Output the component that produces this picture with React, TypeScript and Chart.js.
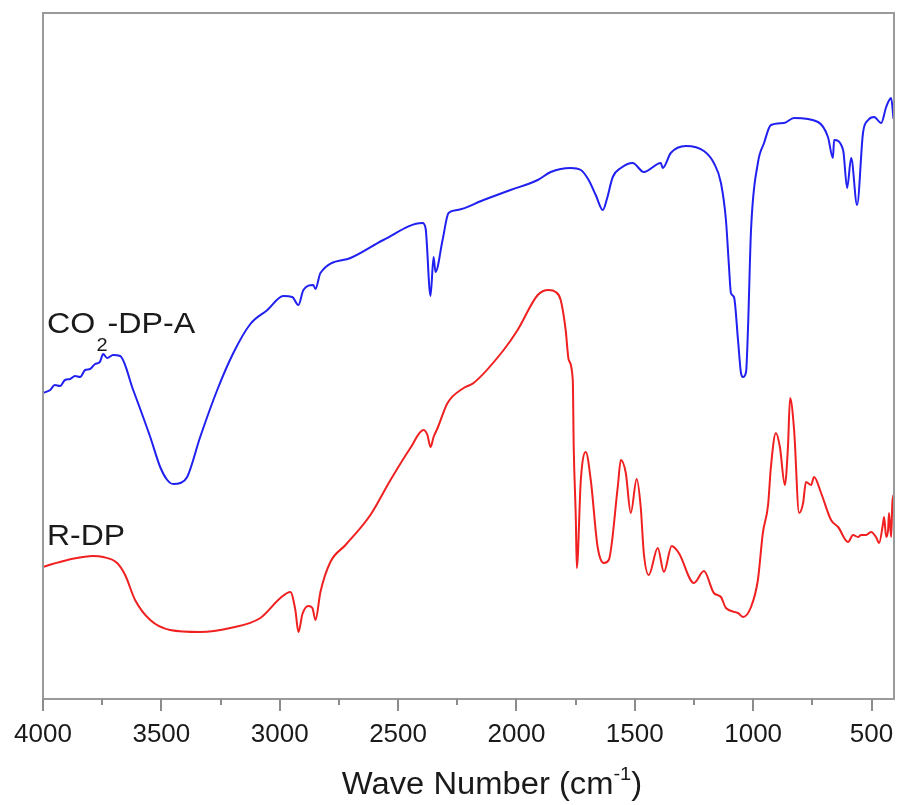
import React, { useEffect, useRef } from "react";
import { Chart, registerables } from "chart.js";

Chart.register(...registerables);

// CO2-DP-A spectrum (blue)
const blueWn = [
  4000, 3970, 3950, 3928, 3907, 3885, 3865, 3843, 3822, 3801,
  3780, 3760, 3746, 3729, 3704, 3674, 3619, 3547, 3505, 3475,
  3450, 3420, 3391, 3336, 3264, 3196, 3124, 3052, 2985, 2947,
  2921, 2900, 2858, 2849, 2828, 2701, 2562, 2397, 2384, 2363,
  2350, 2342, 2312, 2287, 2249, 2139, 2025, 1910, 1855, 1771,
  1728, 1695, 1665, 1635, 1619, 1593, 1559, 1509, 1462, 1390,
  1382, 1348, 1284, 1208, 1166, 1136, 1115, 1102, 1094, 1081,
  1064, 1052, 1043, 1030, 1022, 1009, 980, 954, 925, 870,
  827, 726, 684, 663, 658, 620, 603, 586, 561, 536,
  514, 489, 459, 438, 417, 407,
];
const blueT = [
  30.6, 30.9, 31.4, 31.3, 31.9, 32.0, 32.3, 32.2, 32.9, 33.0,
  33.5, 33.7, 34.5, 34.1, 34.4, 34.3, 30.9, 26.2, 23.2, 21.9,
  21.5, 21.6, 22.2, 26.2, 30.9, 34.6, 37.5, 38.9, 40.3, 40.2,
  39.4, 40.9, 41.4, 41.0, 42.6, 44.1, 45.9, 47.6, 47.1, 40.3,
  44.2, 42.7, 45.9, 48.6, 48.9, 49.9, 50.9, 51.9, 52.7, 53.1,
  52.9, 51.9, 50.4, 48.9, 49.9, 52.2, 53.1, 53.6, 52.7, 53.6,
  53.1, 54.6, 55.3, 54.8, 53.6, 51.6, 47.9, 43.2, 40.6, 40.2,
  35.9, 32.7, 32.2, 32.7, 36.9, 46.9, 53.6, 55.6, 57.4, 57.6,
  58.1, 57.7, 56.2, 54.1, 55.9, 54.9, 51.1, 54.1, 49.4, 56.6,
  57.9, 58.2, 57.6, 59.2, 60.1, 58.0,
];

// R-DP spectrum (red)
const redWn = [
  4000, 3960, 3928, 3880, 3831, 3790, 3746, 3687, 3653, 3611,
  3547, 3463, 3336, 3209, 3082, 2997, 2955, 2934, 2921, 2904,
  2879, 2862, 2849, 2828, 2786, 2722, 2617, 2532, 2448, 2393,
  2376, 2363, 2350, 2333, 2291, 2223, 2181, 2054, 1995, 1910,
  1864, 1834, 1813, 1792, 1779, 1762, 1758, 1749, 1745, 1728,
  1707, 1686, 1657, 1631, 1610, 1572, 1559, 1538, 1517, 1492,
  1475, 1462, 1441, 1403, 1377, 1344, 1314, 1250, 1208, 1166,
  1136, 1115, 1064, 1043, 1009, 980, 959, 937, 925, 904,
  887, 866, 853, 844, 827, 806, 789, 777, 755, 743,
  713, 671, 641, 599, 578, 557, 544, 523, 502, 481,
  468, 451, 447, 438, 430, 426, 417, 412, 407,
];
const redT = [
  13.2, 13.5, 13.7, 14.0, 14.2, 14.3, 14.2, 13.6, 12.4, 9.9,
  7.9, 6.9, 6.7, 7.1, 8.1, 10.1, 10.7, 8.9, 6.7, 8.5,
  9.3, 9.1, 7.9, 10.7, 13.7, 15.4, 18.4, 21.9, 25.1, 26.9,
  26.4, 25.2, 26.2, 27.1, 29.6, 31.1, 31.6, 34.9, 36.9, 40.4,
  40.9, 40.7, 39.9, 36.9, 33.9, 31.9, 25.2, 17.9, 13.1, 21.9,
  24.7, 21.9, 15.2, 13.6, 13.9, 21.2, 23.9, 22.6, 18.6, 22.0,
  19.2, 14.6, 12.4, 15.1, 12.7, 15.3, 14.6, 11.6, 12.8, 10.6,
  10.2, 9.1, 8.6, 8.2, 9.2, 11.9, 16.6, 19.4, 23.2, 26.6,
  25.2, 21.4, 25.2, 30.1, 26.9, 18.6, 19.6, 21.7, 21.4, 22.2,
  20.6, 17.9, 17.2, 15.7, 16.4, 16.2, 16.4, 16.4, 16.7, 16.2,
  15.6, 17.6, 18.2, 16.2, 16.9, 18.6, 16.2, 19.6, 20.4,
];

const majorTicks = [4000, 3500, 3000, 2500, 2000, 1500, 1000, 500];
const minorTicks = [3750, 3250, 2750, 2250, 1750, 1250, 750];
const xMin = 405;
const xMax = 4000;

const FONT = '"Liberation Sans", Arial, Helvetica, sans-serif';

const overlay = {
  id: "overlay",
  afterDraw(chart: any) {
    const { ctx, chartArea: a } = chart;
    const x = chart.scales.x;
    ctx.save();
    // plot frame
    ctx.strokeStyle = "#9a9a9a";
    ctx.lineWidth = 2;
    ctx.strokeRect(a.left, a.top, a.right - a.left, a.bottom - a.top);
    // tick marks
    ctx.strokeStyle = "#8c8c8c";
    ctx.beginPath();
    for (const v of majorTicks) {
      const px = Math.round(x.getPixelForValue(v));
      ctx.moveTo(px, a.bottom);
      ctx.lineTo(px, a.bottom + 12);
    }
    for (const v of minorTicks) {
      const px = Math.round(x.getPixelForValue(v));
      ctx.moveTo(px, a.bottom);
      ctx.lineTo(px, a.bottom + 6);
    }
    ctx.stroke();

    ctx.fillStyle = "#1a1a1a";
    ctx.textBaseline = "alphabetic";
    ctx.textAlign = "left";

    // axis title with superscript
    const mainF = `31px ${FONT}`;
    const supF = `19px ${FONT}`;
    ctx.font = mainF;
    const t1 = "Wave Number (cm";
    const t3 = ")";
    const w1 = ctx.measureText(t1).width;
    const w3 = ctx.measureText(t3).width;
    ctx.font = supF;
    const t2 = "-1";
    const w2 = ctx.measureText(t2).width;
    const sx = 1.056;
    const total = (w1 + w2 + w3) * sx;
    const cx = 492;
    ctx.save();
    ctx.translate(cx - total / 2, 0);
    ctx.scale(sx, 1);
    ctx.font = mainF;
    ctx.fillText(t1, 0, 794);
    ctx.font = supF;
    ctx.fillText(t2, w1, 780);
    ctx.font = mainF;
    ctx.fillText(t3, w1 + w2, 794);
    ctx.restore();

    // series labels
    const labF = `29px ${FONT}`;
    const subF = `18px ${FONT}`;
    ctx.save();
    ctx.translate(47, 0);
    ctx.scale(1.11, 1);
    ctx.font = labF;
    const c1 = "CO";
    const cw1 = ctx.measureText(c1).width;
    ctx.fillText(c1, 0, 333);
    ctx.font = subF;
    const cw2 = ctx.measureText("2").width;
    ctx.fillText("2", cw1 + 1, 351);
    ctx.font = labF;
    ctx.fillText("-DP-A", cw1 + cw2 + 1, 333);
    ctx.restore();

    ctx.save();
    ctx.translate(47, 0);
    ctx.scale(1.1, 1);
    ctx.font = labF;
    ctx.fillText("R-DP", 0, 545);
    ctx.restore();

    ctx.restore();
  },
};

export default function App() {
  const ref = useRef<HTMLCanvasElement | null>(null);
  useEffect(() => {
    document.body.style.margin = "0";
    document.body.style.background = "#ffffff";
    if (!ref.current) return;
    const chart = new Chart(ref.current, {
      type: "line",
      data: {
        datasets: [
          {
            label: "CO2-DP-A",
            data: blueWn.map((w, i) => ({ x: w, y: blueT[i] })),
            borderColor: "#2020f0",
            borderWidth: 2,
            pointRadius: 0,
            cubicInterpolationMode: "monotone",
            fill: false,
          },
          {
            label: "R-DP",
            data: redWn.map((w, i) => ({ x: w, y: redT[i] })),
            borderColor: "#f02020",
            borderWidth: 2,
            pointRadius: 0,
            cubicInterpolationMode: "monotone",
            fill: false,
          },
        ],
      },
      plugins: [overlay],
      options: {
        animation: false,
        responsive: false,
        devicePixelRatio: 1,
        layout: { padding: { left: 43, right: 6, top: 13, bottom: 0 } },
        plugins: {
          legend: { display: false },
          tooltip: { enabled: false },
          title: { display: false },
        },
        scales: {
          x: {
            type: "linear",
            reverse: true,
            min: xMin,
            max: xMax,
            afterBuildTicks: (s: any) => {
              s.ticks = majorTicks.map((v) => ({ value: v }));
            },
            afterFit: (s: any) => {
              s.height = 106;
              s.paddingLeft = 0;
              s.paddingRight = 0;
            },
            grid: { display: false, drawTicks: false },
            border: { display: false },
            ticks: {
              autoSkip: false,
              maxRotation: 0,
              padding: 20,
              color: "#1a1a1a",
              font: { family: FONT, size: 26 },
              callback: (v: any) => String(v),
            },
          },
          y: {
            display: false,
            min: 0,
            max: 68.6,
          },
        },
      },
    });
    return () => chart.destroy();
  }, []);
  return (
    <div style={{ width: 900, height: 805 }}>
      <canvas ref={ref} width={900} height={805} />
    </div>
  );
}
